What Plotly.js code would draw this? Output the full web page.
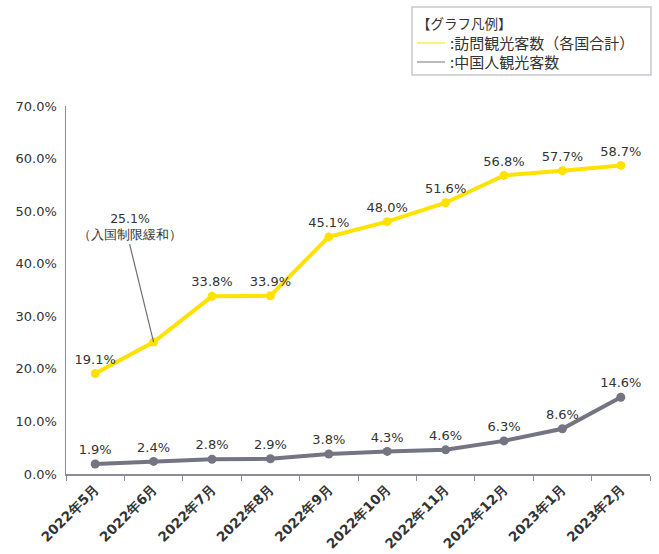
<!DOCTYPE html>
<html>
<head>
<meta charset="utf-8">
<script src="https://cdn.plot.ly/plotly-3.0.1.min.js"></script>
<style>html,body{margin:0;padding:0;background:#fff;}#chart{width:659px;height:554px;}</style>
</head>
<body>
<div id="chart"></div>
<script>
const categories = ["2022年5月","2022年6月","2022年7月","2022年8月","2022年9月","2022年10月","2022年11月","2022年12月","2023年1月","2023年2月"];
const totalVisitors = [19.1, 25.1, 33.8, 33.9, 45.1, 48.0, 51.6, 56.8, 57.7, 58.7];
const chinaVisitors = [1.9, 2.4, 2.8, 2.9, 3.8, 4.3, 4.6, 6.3, 8.6, 14.6];
const yTicks = [0, 10, 20, 30, 40, 50, 60, 70];
const seriesNames = ["訪問観光客数（各国合計）", "中国人観光客数"];
const legendTitle = "【グラフ凡例】";
const noteIndex = 1;
const noteText = "25.1%<br>（入国制限緩和）";

const YELLOW = "#FFE200";
const GRAY = "#747482";
const FONT = "DejaVu Sans, Verdana, sans-serif";
const TXT = "#333333";

function labels(arr, skip) {
  return arr.map((v, i) => i === skip ? "" : v.toFixed(1) + "%");
}

const traces = [
  {
    x: categories, y: totalVisitors, type: "scatter", mode: "lines+markers+text",
    name: seriesNames[0],
    line: {color: YELLOW, width: 4},
    marker: {color: YELLOW, size: 9},
    text: labels(totalVisitors, noteIndex), textposition: "top center",
    textfont: {family: FONT, size: 13, color: TXT},
    cliponaxis: false, showlegend: false
  },
  {
    x: categories, y: chinaVisitors, type: "scatter", mode: "lines+markers+text",
    name: seriesNames[1],
    line: {color: GRAY, width: 4},
    marker: {color: GRAY, size: 9},
    text: labels(chinaVisitors, -1), textposition: "top center",
    textfont: {family: FONT, size: 13, color: TXT},
    cliponaxis: false, showlegend: false
  }
];

const layout = {
  width: 659, height: 554,
  margin: {l: 66, r: 9, t: 106, b: 80},
  paper_bgcolor: "#ffffff", plot_bgcolor: "#ffffff",
  font: {family: FONT, size: 13, color: TXT},
  showlegend: false,
  xaxis: {
    type: "category",
    showline: true, linecolor: "#8c8c96", linewidth: 1.5,
    ticks: "outside", tickson: "boundaries", ticklen: 5, tickcolor: "#8c8c96",
    tickangle: -45, showgrid: false, zeroline: false,
    tickfont: {family: FONT, size: 13.5, color: TXT, weight: "bold"},
    range: [-0.5, categories.length - 0.5]
  },
  yaxis: {
    range: [0, 70], tickvals: yTicks,
    ticktext: yTicks.map(v => v.toFixed(1) + "%"),
    showline: true, linecolor: "#8c8c96", linewidth: 1.5,
    showgrid: false, zeroline: false, ticks: "",
    ticklabelstandoff: 5,
    tickfont: {family: FONT, size: 13, color: TXT}
  },
  annotations: [
    {
      x: categories[noteIndex], y: totalVisitors[noteIndex], xref: "x", yref: "y",
      text: noteText, showarrow: true, arrowhead: 0, arrowwidth: 1.2, arrowcolor: "#6e6e78",
      ax: -24, ay: -98, xanchor: "center", yanchor: "bottom", standoff: 0,
      font: {family: FONT, size: 12.5, color: TXT}, align: "center"
    },
    {x: 415, y: 23, xref: "paper", yref: "paper", text: legendTitle, showarrow: false,
     xanchor: "left", yanchor: "middle", font: {family: "Noto Sans CJK JP", size: 13.5, color: TXT}},
    {x: 448, y: 43, xref: "paper", yref: "paper", text: ":" + seriesNames[0], showarrow: false,
     xanchor: "left", yanchor: "middle", font: {family: "Noto Sans CJK JP", size: 15, color: TXT}},
    {x: 448, y: 62, xref: "paper", yref: "paper", text: ":" + seriesNames[1], showarrow: false,
     xanchor: "left", yanchor: "middle", font: {family: "Noto Sans CJK JP", size: 15, color: TXT}}
  ],
  shapes: [
    {type: "rect", xref: "paper", yref: "paper", x0: 412, x1: 651, y0: 7, y1: 75,
     line: {color: "#c8c8d0", width: 1.5}, fillcolor: "rgba(0,0,0,0)"},
    {type: "line", xref: "paper", yref: "paper", x0: 417, x1: 445, y0: 43, y1: 43,
     line: {color: YELLOW, width: 1}},
    {type: "line", xref: "paper", yref: "paper", x0: 417, x1: 445, y0: 62, y1: 62,
     line: {color: GRAY, width: 1}}
  ]
};

// convert pixel positions of legend box to paper coords
const pw = 659 - 66 - 9, ph = 554 - 106 - 80;
function px(x) { return (x - 66) / pw; }
function py(y) { return (554 - 80 - y) / ph; }
layout.annotations.forEach(a => { if (a.xref === "paper") { a.x = px(a.x); a.y = py(a.y); } });
layout.shapes.forEach(s => { s.x0 = px(s.x0); s.x1 = px(s.x1); s.y0 = py(s.y0); s.y1 = py(s.y1); });

Plotly.newPlot("chart", traces, layout, {displayModeBar: false, staticPlot: true});
</script>
</body>
</html>
